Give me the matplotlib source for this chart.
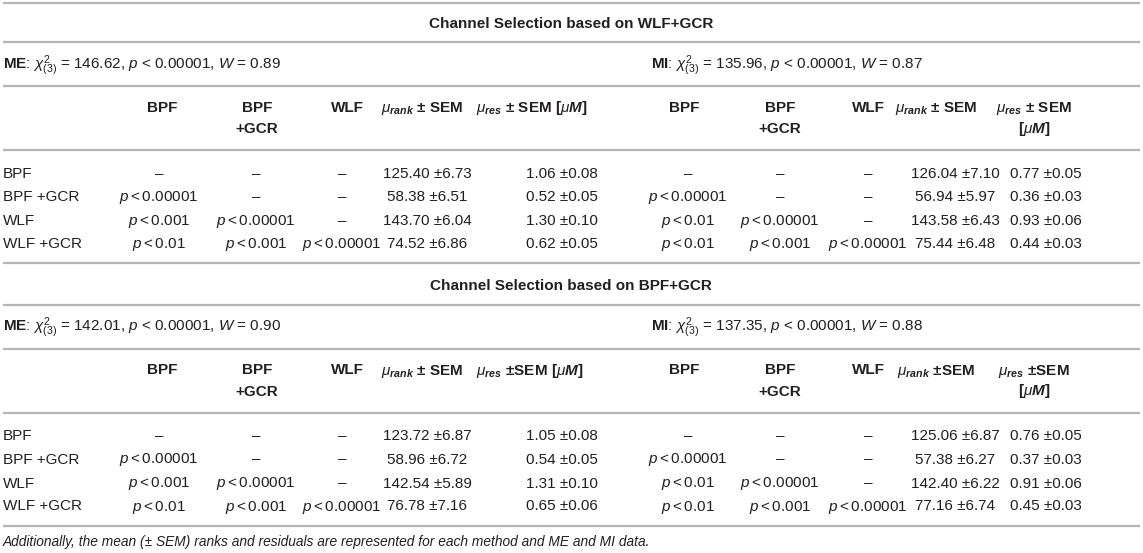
import matplotlib.pyplot as plt

plt.rcParams['font.family'] = 'Liberation Sans'
plt.rcParams['mathtext.fontset'] = 'custom'
plt.rcParams['mathtext.rm'] = 'Liberation Sans'
plt.rcParams['mathtext.it'] = 'Liberation Sans:italic'
plt.rcParams['mathtext.bf'] = 'Liberation Sans:bold'
plt.rcParams['mathtext.sf'] = 'Liberation Sans:bold:italic'

# table contents
titles = ['Channel Selection based on WLF+GCR', 'Channel Selection based on BPF+GCR']
methods = ['BPF', 'BPF +GCR', 'WLF', 'WLF +GCR']
chi2_me = [146.62, 142.01]
w_me = [0.89, 0.90]
chi2_mi = [135.96, 137.35]
w_mi = [0.87, 0.88]

# pairwise p thresholds (row method vs column method), None = no entry
p_me = [[None, None, None],
        ['0.00001', None, None],
        ['0.001', '0.00001', None],
        ['0.01', '0.001', '0.00001']]
p_mi = [[None, None, None],
        ['0.00001', None, None],
        ['0.01', '0.00001', None],
        ['0.01', '0.001', '0.00001']]

# WLF+GCR selection
rank_me_1 = [125.40, 58.38, 143.70, 74.52]
rank_me_sem_1 = [6.73, 6.51, 6.04, 6.86]
res_me_1 = [1.06, 0.52, 1.30, 0.62]
res_me_sem_1 = [0.08, 0.05, 0.10, 0.05]
rank_mi_1 = [126.04, 56.94, 143.58, 75.44]
rank_mi_sem_1 = [7.10, 5.97, 6.43, 6.48]
res_mi_1 = [0.77, 0.36, 0.93, 0.44]
res_mi_sem_1 = [0.05, 0.03, 0.06, 0.03]

# BPF+GCR selection
rank_me_2 = [123.72, 58.96, 142.54, 76.78]
rank_me_sem_2 = [6.87, 6.72, 5.89, 7.16]
res_me_2 = [1.05, 0.54, 1.31, 0.65]
res_me_sem_2 = [0.08, 0.05, 0.10, 0.06]
rank_mi_2 = [125.06, 57.38, 142.40, 77.16]
rank_mi_sem_2 = [6.87, 6.27, 6.22, 6.74]
res_mi_2 = [0.76, 0.37, 0.91, 0.45]
res_mi_sem_2 = [0.05, 0.03, 0.06, 0.03]

footnote = ('Additionally, the mean (± SEM) ranks and residuals are represented '
            'for each method and ME and MI data.')

txt = '#231f20'
rule = '#b5b5b5'
fs = 11

fig = plt.figure(figsize=(11.43, 5.53), dpi=100)
ax = fig.add_axes([0, 0, 1, 1])
ax.set_xlim(0, 1143)
ax.set_ylim(553, 0)
ax.axis('off')

hdr_x = [[162, 257, 347, 422, 476], [684, 780, 868, 936, 1034]]
dat_x = [[159, 256, 342, 427, 562], [688, 780, 868, 955, 1046]]
stat_x = [3, 651]

sections = [
    (rank_me_1, rank_me_sem_1, res_me_1, res_me_sem_1,
     rank_mi_1, rank_mi_sem_1, res_mi_1, res_mi_sem_1),
    (rank_me_2, rank_me_sem_2, res_me_2, res_me_sem_2,
     rank_mi_2, rank_mi_sem_2, res_mi_2, res_mi_sem_2),
]

def put(x, y, s, ha='center', **kw):
    ax.text(x, y + 5, s, ha=ha, va='baseline', fontsize=kw.pop('size', fs),
            color=txt, **kw)

ax.hlines(3, 3, 1140, color=rule, lw=1.6)
for k, sec in enumerate(sections):
    off = k * 262.5
    put(571, 23 + off, titles[k], weight='bold')
    for yy in [42, 86, 150, 263]:
        ax.hlines(yy + off, 3, 1140, color=rule, lw=1.6)

    stats = [('ME', chi2_me[k], w_me[k]), ('MI', chi2_mi[k], w_mi[k])]
    for h, (lab, c, w) in enumerate(stats):
        s = (r'$\mathbf{%s}$: $\chi^2_{(3)}$ = %.2f, $p$ < 0.00001, $W$ = %.2f'
             % (lab, c, w))
        put(stat_x[h], 64 + off, s, ha='left')

    # header cells
    sem = ' ± SEM' if k == 0 else ' ±SEM'
    for h in range(2):
        hx = hdr_x[h]
        put(hx[0], 107 + off, 'BPF', weight='bold')
        put(hx[1], 107 + off, 'BPF', weight='bold')
        put(hx[1], 128 + off, '+GCR', weight='bold')
        put(hx[2], 107 + off, 'WLF', weight='bold')
        rank_sem = ' ± SEM' if (k == 0 or h == 0) else ' ±SEM'
        put(hx[3], 107 + off, r'$\mu_{\mathsf{rank}}$' + rank_sem, weight='bold')
        if h == 0:
            put(hx[4], 107 + off,
                r'$\mu_{\mathsf{res}}$' + sem + r' [$\mu\mathsf{M}$]',
                ha='left', weight='bold')
        else:
            put(hx[4], 107 + off, r'$\mu_{\mathsf{res}}$' + sem, weight='bold')
            put(hx[4], 128 + off, r'[$\mu\mathsf{M}$]', weight='bold')

    # body rows
    row_y = [173, 196, 220, 243]
    for i, m in enumerate(methods):
        y = row_y[i] + off
        put(3, y, m, ha='left')
        for h, ptab in enumerate([p_me, p_mi]):
            dx = dat_x[h]
            for j in range(3):
                p = ptab[i][j]
                put(dx[j], y, '–' if p is None else r'$p<$' + p)
            rk, rks, rs, rss = sec[4 * h:4 * h + 4]
            put(dx[3], y, '%.2f ±%.2f' % (rk[i], rks[i]))
            put(dx[4], y, '%.2f ±%.2f' % (rs[i], rss[i]))

put(3, 541, footnote, ha='left', style='italic', size=9.9)

plt.savefig('out.png', dpi=100)
